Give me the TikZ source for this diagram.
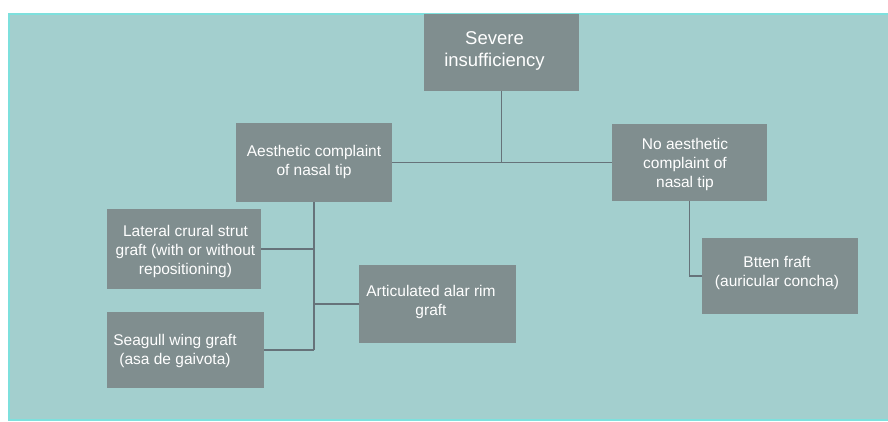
\documentclass[tikz,border=0pt]{standalone}
\usepackage{fontspec}
\setmainfont{Liberation Sans}
\definecolor{bgteal}{HTML}{A3CFCE}
\definecolor{edgecyan}{HTML}{7EE0DD}
\definecolor{boxgray}{HTML}{808E8F}
\definecolor{linegray}{HTML}{66737A}
\tikzset{
  box/.style={draw=none, fill=boxgray, minimum width=#1, inner sep=0pt, outer sep=0pt},
  box/.default=156pt,
  txt/.style={text=white, align=center, inner sep=0pt, font=\fontsize{15.5pt}{19pt}\selectfont},
  ttl/.style={text=white, align=center, inner sep=0pt, font=\fontsize{18.5pt}{22pt}\selectfont},
  conn/.style={draw=linegray, line width=1.4pt}
}
\begin{document}
\begin{tikzpicture}[x=1pt,y=-1pt]
\useasboundingbox (0,0) rectangle (888,421);
\fill[white] (0,0) rectangle (888,421);
\fill[bgteal] (8,13) rectangle (888,421);
\draw[edgecyan, line width=2pt] (888,13.5) -- (8.5,13.5) -- (8.5,420) -- (888,420);
% boxes
\node[box=155pt, minimum height=77pt] (sev) at (501.5,52.5) {};
\node[box=156pt, minimum height=79pt] (aes) at (314,162.5) {};
\node[box=155pt, minimum height=77pt] (noa) at (689.5,162.5) {};
\node[box=154pt, minimum height=80pt] (lat) at (184,249) {};
\node[box=157pt, minimum height=78pt] (art) at (437.5,304) {};
\node[box=157pt, minimum height=76pt] (sea) at (185.5,350) {};
\node[box=156pt, minimum height=76pt] (btt) at (780,276) {};
% texts
\node[ttl] (sevt) at (494.5,51) {Severe\\insufficiency};
\node[txt] (aest) at (314,162) {Aesthetic complaint\\of nasal tip};
\node[txt] (noat) at (685,164) {No aesthetic\\complaint of\\nasal tip};
\node[txt] (latt) at (185.5,251) {Lateral crural strut\\graft (with or without\\repositioning)};
\node[txt] (artt) at (431,302) {Articulated alar rim\\graft};
\node[txt] (seat) at (175,351) {Seagull wing graft\\(asa de gaivota)};
\node[txt] (bttt) at (777,273) {Btten fraft\\(auricular concha)};
% connectors
\coordinate (j1) at (sev.south |- aes.east);
\coordinate (jl) at (aes.south |- lat.east);
\coordinate (ja) at (aes.south |- art.west);
\coordinate (js) at (aes.south |- sea.east);
\coordinate (jb) at (noa.south |- btt.west);
\draw[conn] (sev.south) -- (j1);
\draw[conn] (aes.east) -- (noa.west);
\draw[conn] (aes.south) -- (js);
\draw[conn] (lat.east) -- (jl);
\draw[conn] (art.west) -- (ja);
\draw[conn] (sea.east) -- (js);
\draw[conn] (noa.south) -- (jb) -- (btt.west);
\end{tikzpicture}
\end{document}
